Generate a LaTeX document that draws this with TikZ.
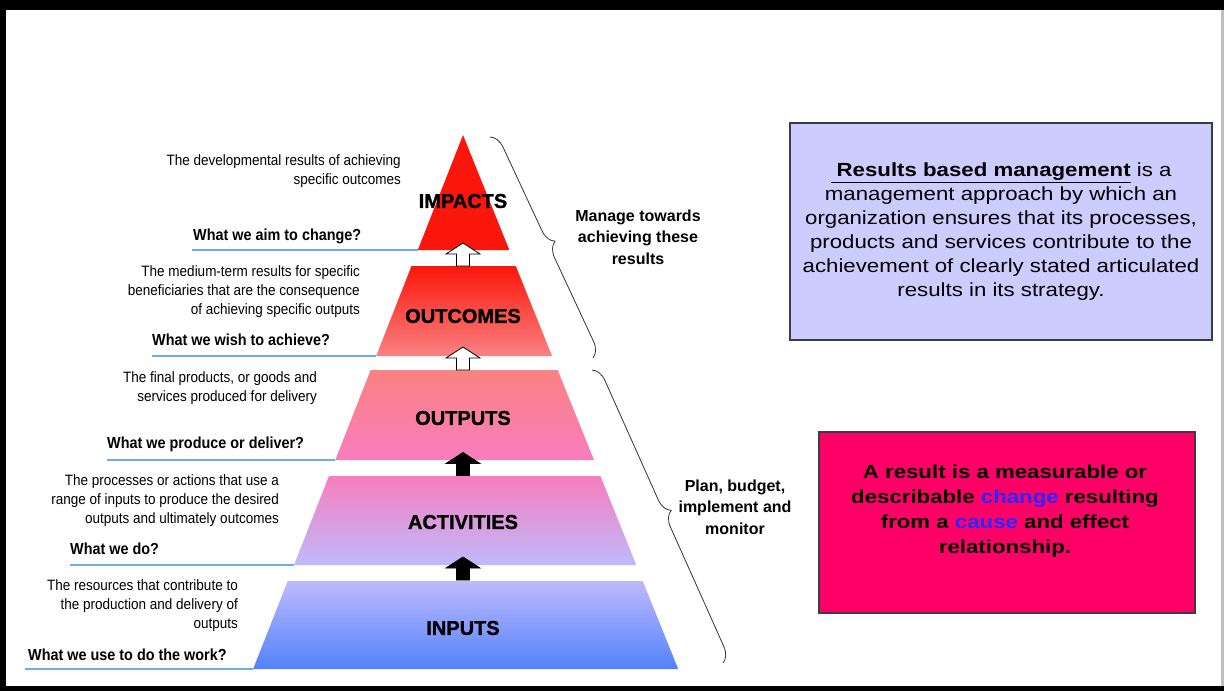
\documentclass[tikz,border=0pt]{standalone}
\usepackage{fontspec}
\setmainfont{Liberation Sans}
\newfontfamily\narrowsans[FakeStretch=0.9]{Liberation Sans}
\newfontfamily\widesans[FakeStretch=1.17]{Liberation Sans}
\newfontfamily\heavysans[FakeBold=1.2]{Liberation Sans Bold}
\usetikzlibrary{decorations.pathreplacing, positioning}
\usepackage{xcolor}
\definecolor{impred}{RGB}{250,22,10}
\definecolor{outcomelow}{RGB}{250,130,130}
\definecolor{outputlow}{RGB}{248,125,190}
\definecolor{actlow}{RGB}{190,186,252}
\definecolor{inplow}{RGB}{82,130,250}
\definecolor{lineblue}{RGB}{110,170,240}
\definecolor{rbmfill}{RGB}{204,204,255}
\definecolor{resfill}{RGB}{255,0,102}
\definecolor{wordblue}{RGB}{40,40,255}
\definecolor{boxedge}{RGB}{60,60,70}

\begin{document}
\begin{tikzpicture}[x=1pt, y=-1pt]
	\tikzset{
		layer_label/.style={%
			font=\heavysans\fontsize{20}{22}\selectfont,
			inner sep=0pt},
		desc_style/.style={%
			font=\narrowsans\fontsize{15}{19}\selectfont,
			align=right, anchor=east, inner sep=0pt},
		question_style/.style={%
			font=\narrowsans\bfseries\fontsize{16}{19}\selectfont,
			anchor=west, inner sep=0pt},
		up_arrow/.pic={%
			\path[draw=black, line width=0.8pt, pic actions]
				(0,-11.5) -- (17,-0.5) -- (6.5,-0.5) -- (6.5,11.5)
				-- (-6.5,11.5) -- (-6.5,-0.5) -- (-17,-0.5) -- cycle;},
		brace_style/.style={%
			decorate, decoration={brace, amplitude=15pt},
			draw=black!80, line width=0.8pt},
		side_label/.style={%
			font=\fontsize{16}{21.5}\selectfont\bfseries,
			align=center}
	}
	\tikzstyle{qline_style} = [draw=lineblue, line width=1.6pt]

	\useasboundingbox (0,0) rectangle (1224,691);
	% frame
	\fill[black] (0,0) rectangle (1224,691);
	\fill[white] (6,10) rectangle (1221,686);
	\fill[black!25] (1221,10) rectangle (1224,686);

	% pyramid, apex at (463,135)
	\fill[impred] (463,135) -- (509.3,250) -- (417.8,250) -- cycle;
	\foreach \t/\b/\ct/\cb in {266/356/impred/outcomelow, 370/460/outcomelow/outputlow,
		476/565/outputlow/actlow, 581/669/actlow/inplow}
		\shade[top color=\ct, bottom color=\cb]
			({463-0.393*(\t-135)},\t) -- ({463+0.403*(\t-135)},\t)
			-- ({463+0.403*(\b-135)},\b) -- ({463-0.393*(\b-135)},\b) -- cycle;

	\node[layer_label] (impacts) at (463,201) {IMPACTS};
	\node[layer_label] (outcomes) at (463,316) {OUTCOMES};
	\node[layer_label] (outputs) at (463,418) {OUTPUTS};
	\node[layer_label] (activities) at (463,522) {ACTIVITIES};
	\node[layer_label] (inputs) at (463,628) {INPUTS};

	\pic[fill=white] (up1) at (463,254.5) {up_arrow};
	\pic[fill=white] (up2) at (463,358.5) {up_arrow};
	\pic[fill=black] (up3) at (463,464) {up_arrow};
	\pic[fill=black] (up4) at (463,568.5) {up_arrow};

	% left hand texts
	\node[desc_style] (d1) at (401,171) {The developmental results of achieving\\specific outcomes};
	\node[question_style] (q1) at (193,236) {What we aim to change?};
	\node[desc_style] (d2) at (360,292) {The medium-term results for specific\\beneficiaries that are the consequence\\of achieving specific outputs};
	\node[question_style] (q2) at (152,340) {What we wish to achieve?};
	\node[desc_style] (d3) at (317,388) {The final products, or goods and\\services produced for delivery};
	\node[question_style] (q3) at (107,444) {What we produce or deliver?};
	\node[desc_style] (d4) at (279,501) {The processes or actions that use a\\range of inputs to produce the desired\\outputs and ultimately outcomes};
	\node[question_style] (q4) at (70,549) {What we do?};
	\node[desc_style] (d5) at (238,606) {The resources that contribute to\\the production and delivery of\\outputs};
	\node[question_style] (q5) at (28,655) {What we use to do the work?};

	\foreach \x/\y in {192/250, 152/356, 107/460, 70/565, 25/669}
		\draw[qline_style] (\x,\y) -- ({463-0.393*(\y-135)},\y);

	% braces
	\coordinate (br1a) at (490,137);
	\coordinate (br1b) at (593,358);
	\coordinate (br2a) at (592,370);
	\coordinate (br2b) at (723,663);
	\draw[brace_style] (br1a) -- (br1b);
	\draw[brace_style] (br2a) -- (br2b);
	\node[side_label] (manage) at (638,237) {Manage towards\\achieving these\\results};
	\node[side_label] (plan) at (735,507) {Plan, budget,\\implement and\\monitor};

	% boxes on the right
	\node[draw=boxedge, fill=rbmfill, line width=1.2pt, minimum width=422pt,
		minimum height=217pt, inner sep=0pt, align=center,
		font=\widesans\fontsize{19}{24}\selectfont] (rbm) at (1001,231.5)
		{\underline{\textbf{~Results based management}} is a\\management approach by which an\\organization ensures that its processes,\\products and services contribute to the\\achievement of clearly stated articulated\\results in its strategy.};
	\node[draw=boxedge, fill=resfill, line width=1.2pt, minimum width=376pt,
		minimum height=181pt] (res) at (1007,522.5) {};
	\node[align=center, font=\widesans\bfseries\fontsize{19}{25}\selectfont] (res_text) at (1005,511)
		{A result is a measurable or\\describable \textcolor{wordblue}{change} resulting\\from a \textcolor{wordblue}{cause} and effect\\relationship.};
\end{tikzpicture}
\end{document}
